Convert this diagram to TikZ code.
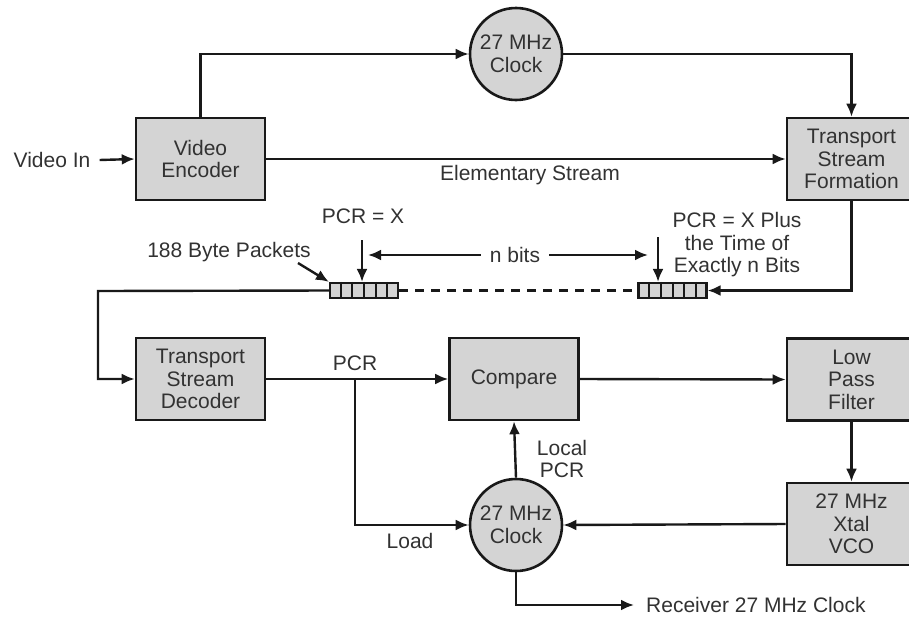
\documentclass[tikz,border=0pt]{standalone}
\usepackage{fontspec}
\setmainfont{Liberation Sans}
\usetikzlibrary{arrows.meta,calc}
\definecolor{boxgray}{RGB}{212,212,212}
\definecolor{txtgray}{RGB}{50,50,50}
\definecolor{lngray}{RGB}{25,25,25}
\begin{document}
\begin{tikzpicture}[x=1pt,y=-1pt,
  font=\fontsize{21}{22.5}\selectfont,
  every node/.style={text=txtgray,align=center,inner sep=0pt},
  blk/.style={draw=lngray,line width=2.6pt,fill=boxgray,minimum width=129pt,minimum height=82pt},
  clk/.style={draw=lngray,line width=2.6pt,fill=boxgray,circle,minimum size=92pt},
  pkt/.style={draw=lngray,line width=2.2pt,fill=boxgray,minimum width=68pt,minimum height=15pt},
  arr/.style={draw=lngray,line width=2.4pt,-{Latex[length=13pt,width=11pt]}},
  ln/.style={draw=lngray,line width=2.4pt}]
\useasboundingbox (0,0) rectangle (909,616);
% blocks
\node[blk] (ve) at (200.5,159) {Video\\Encoder};
\node[blk] (tsf) at (851.5,159) {Transport\\Stream\\Formation};
\node[blk] (tsd) at (200.5,379) {Transport\\Stream\\Decoder};
\node[blk] (cmp) at (514,379) {Compare};
\node[blk] (lpf) at (851.5,379.5) {Low\\Pass\\Filter};
\node[blk] (vco) at (851.5,524) {27 MHz\\Xtal\\VCO};
\node[clk] (clk1) at (516,54) {27 MHz\\Clock};
\node[clk] (clk2) at (516,525) {27 MHz\\Clock};
% packets
\node[pkt] (pkL) at (364,290.5) {};
\node[pkt] (pkR) at (672.5,290.5) {};
\foreach \p in {pkL,pkR}{
  \foreach \i in {1,...,5}{
    \draw[lngray,line width=2pt] ($(\p.north west)!\i/6!(\p.north east)$) -- ($(\p.south west)!\i/6!(\p.south east)$);
  }
}
% labels
\node (vin) at (52,160) {Video In};
\node (es) at (530,175) {Elementary Stream};
\node (pcrx) at (363,216) {PCR = X};
\node (nb) at (515,255) {n bits};
\node (pcrxp) at (737,245) {PCR = X Plus\\the Time of\\Exactly n Bits};
\node (bp) at (229,252) {188 Byte Packets};
\node (pcr) at (355,363) {PCR};
\node (load) at (410,541) {Load};
\node (lpcr) at (562,459) {Local\\PCR};
\node[anchor=west] (rcv) at (646,605) {Receiver 27 MHz Clock};
% coordinates
\coordinate (c1) at (98,291);
\coordinate (br) at (355,379);
\coordinate (a1) at (362,240);
\coordinate (a2) at (658,237);
\coordinate (nbl) at (368,255);
\coordinate (nbr) at (648,255);
\coordinate (bpa) at (298,263);
\coordinate (rc) at (634,605);
% connectors
\draw[arr] (vin.east) ++(9,0) -- (ve.west);
\draw[arr] (ve.north) |- (clk1.west);
\draw[arr] (clk1.east) -| (tsf.north);
\draw[arr] (ve.east) -- (ve.east -| tsf.west);
\draw[arr] (tsf.south) |- (pkR.east);
\draw[ln,dashed,dash pattern=on 9pt off 7pt] (pkL.east) -- (pkR.west);
\draw[arr] (pkL.west) -- (c1) |- (tsd.west);
\draw[arr] (tsd.east) -- (cmp.west);
\draw[arr] (br) |- (clk2.west);
\draw[arr] (cmp.east) -- (lpf.west);
\draw[arr] (lpf.south) -- (vco.north);
\draw[arr] (vco.west) -- (clk2.east);
\draw[arr] (clk2.north) -- (cmp.south);
\draw[arr] (clk2.south) |- (rc);
\draw[arr] (a1) -- (a1 |- pkL.north);
\draw[arr] (a2) -- (a2 |- pkR.north);
\draw[arr] (nb.west) ++(-9,0) -- (nbl);
\draw[arr] (nb.east) ++(9,0) -- (nbr);
\draw[arr] (bpa) -- (pkL.north west);
\end{tikzpicture}
\end{document}
